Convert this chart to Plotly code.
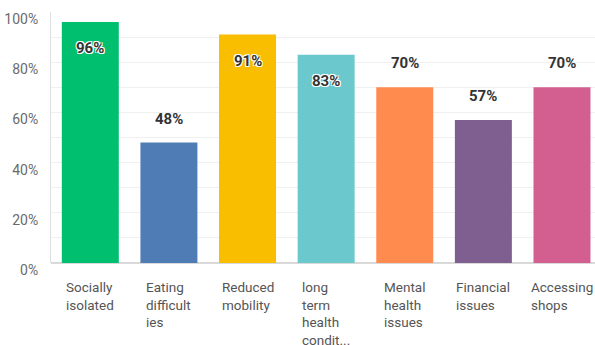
import plotly.graph_objects as go

categories = [
    "Socially isolated",
    "Eating difficulties",
    "Reduced mobility",
    "long term health conditions",
    "Mental health issues",
    "Financial issues",
    "Accessing shops",
]
# wrapped axis labels as shown under each bar
category_labels = [
    "Socially<br>isolated",
    "Eating<br>difficult<br>ies",
    "Reduced<br>mobility",
    "long<br>term<br>health<br>condit...",
    "Mental<br>health<br>issues",
    "Financial<br>issues",
    "Accessing<br>shops",
]
values = [96, 48, 91, 83, 70, 57, 70]
colors = ["#00BF6F", "#507CB6", "#F9BE00", "#6BC8CD", "#FF8B4F", "#7F5F90", "#D25F90"]
y_ticks = [0, 20, 40, 60, 80, 100]

x_idx = list(range(len(categories)))

fig = go.Figure(
    go.Bar(
        x=x_idx,
        y=values,
        marker=dict(color=colors, line=dict(width=0)),
        width=0.725,
        hoverinfo="skip",
    )
)

halo = "-1px -1px 0 #fff, 1px -1px 0 #fff, -1px 1px 0 #fff, 1px 1px 0 #fff"
annotations = []
for i, v in enumerate(values):
    inside = v >= 80
    annotations.append(
        dict(
            x=i, y=v, xref="x", yref="y",
            text=f"{v}%",
            showarrow=False,
            yshift=-26 if inside else 24,
            font=dict(family="Roboto", size=15, color="#333333", weight="bold",
                      shadow=halo if inside else "none"),
        )
    )
    annotations.append(
        dict(
            x=i, y=0, xref="x", yref="y",
            text=category_labels[i],
            showarrow=False,
            xanchor="center", yanchor="top", align="left",
            yshift=-14,
            font=dict(family="Roboto", size=13.5, color="#555555"),
        )
    )

fig.update_layout(
    width=595,
    height=345,
    margin=dict(l=51, r=0, t=12, b=82),
    paper_bgcolor="white",
    plot_bgcolor="white",
    showlegend=False,
    annotations=annotations,
    xaxis=dict(
        range=[-0.5, 6.42],
        showticklabels=False,
        showgrid=False,
        zeroline=False,
        showline=False,
        fixedrange=True,
    ),
    yaxis=dict(
        range=[0, 100],
        tickvals=y_ticks,
        ticktext=[f"{t}%" for t in y_ticks],
        ticks="",
        ticklabelstandoff=9,
        ticklabelshift=7,
        tickfont=dict(family="Roboto", size=14, color="#6b6b6b"),
        showgrid=True,
        gridcolor="#f0f0f0",
        gridwidth=1,
        minor=dict(dtick=10, showgrid=True, gridcolor="#f0f0f0", gridwidth=1),
        zeroline=True,
        zerolinecolor="#d9d9d9",
        zerolinewidth=2,
        showline=True,
        linecolor="#e0e0e0",
        linewidth=1,
        fixedrange=True,
    ),
)

fig.write_html("out.html")
